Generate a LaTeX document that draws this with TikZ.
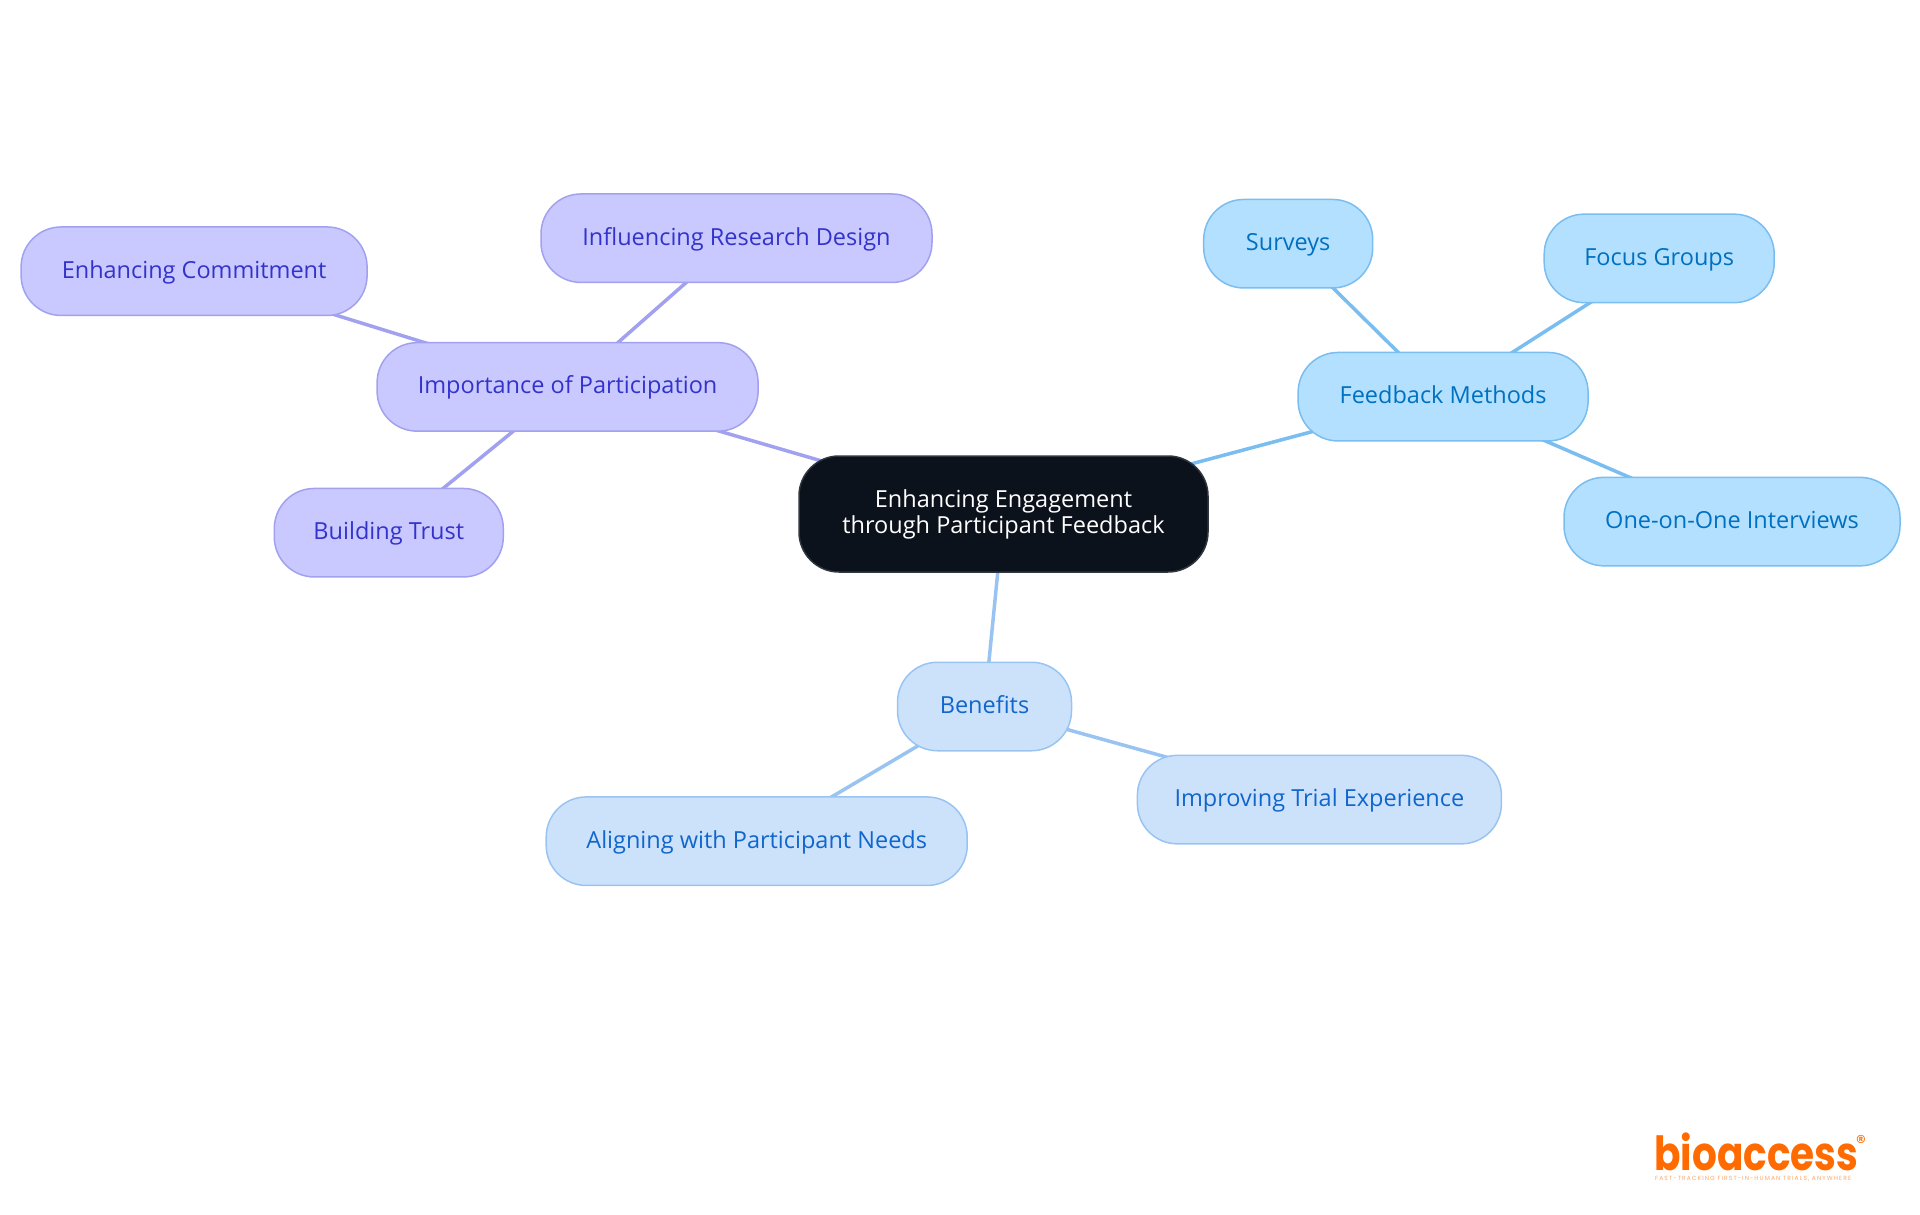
\documentclass[tikz,border=0pt]{standalone}
\usepackage{fontspec}
\setmainfont{Open Sans}
\newfontfamily\logofont{Poppins}
\newfontfamily\tagfont{Poppins}[LetterSpace=18]
\usetikzlibrary{backgrounds}
\definecolor{rootfill}{HTML}{0C121B}
\definecolor{purplefill}{HTML}{C9C9FF}
\definecolor{purpleline}{HTML}{A1A1F0}
\definecolor{purpletext}{HTML}{3333CC}
\definecolor{cyanfill}{HTML}{B3E0FF}
\definecolor{cyanline}{HTML}{7ABDF0}
\definecolor{cyantext}{HTML}{0070C0}
\definecolor{bluefill}{HTML}{CCE2FB}
\definecolor{blueline}{HTML}{99C4F2}
\definecolor{bluetext}{HTML}{1166CC}
\definecolor{logoorange}{HTML}{FF6B00}
\begin{document}
\begin{tikzpicture}[x=1pt,y=1pt,sibling distance=0pt,level distance=0pt,
	edge from parent/.style={draw=none},
	box/.style={draw,rectangle,rounded corners=40pt,line width=1.5pt,inner sep=0pt,outer sep=0pt,
		minimum height=88.5pt,font=\fontsize{23.5}{26}\selectfont},
	childbox/.style={box,text height=20pt,text depth=6pt},
	rootbox/.style={box,draw=rootfill!85!white,fill=rootfill,text=white,align=center,minimum height=116pt,minimum width=409pt},
	purplebox/.style={childbox,draw=purpleline,fill=purplefill,text=purpletext},
	cyanbox/.style={childbox,draw=cyanline,fill=cyanfill,text=cyantext},
	bluebox/.style={childbox,draw=blueline,fill=bluefill,text=bluetext},
	purpleedge/.style={draw=purpleline,line width=3.5pt},
	cyanedge/.style={draw=cyanline,line width=3.5pt},
	blueedge/.style={draw=blueline,line width=3.5pt}]
\useasboundingbox (0,0) rectangle (1920,-1215);
\node [rootbox] (main) at (1003.5,-514) {Enhancing Engagement\\through Participant Feedback}
child [shift={(-435.9,127.1)}] {node [purplebox,minimum width=381pt] (imp) {Importance of Participation}
	child [shift={(168.9,148.7)}] {node [purplebox,minimum width=391pt] (infl) {Influencing Research Design}}
	child [shift={(-373.5,115.7)}] {node [purplebox,minimum width=346pt] (commit) {Enhancing Commitment}}
	child [shift={(-178.8,-145.8)}] {node [purplebox,minimum width=229pt] (trust) {Building Trust}}
}
child [shift={(439.6,117.3)}] {node [cyanbox,minimum width=290pt] (feed) {Feedback Methods}
	child [shift={(-154.9,153)}] {node [cyanbox,minimum width=169pt] (surv) {Surveys}}
	child [shift={(216.1,138.3)}] {node [cyanbox,minimum width=230pt] (focus) {Focus Groups}}
	child [shift={(288.9,-124.9)}] {node [cyanbox,minimum width=336pt] (inter) {One-on-One Interviews}}
}
child [shift={(-19,-192.5)}] {node [bluebox,minimum width=174pt] (ben) {Benefits}
	child [shift={(334.9,-93.1)}] {node [bluebox,minimum width=364pt] (trial) {Improving Trial Experience}}
	child [shift={(-227.8,-134.7)}] {node [bluebox,minimum width=421pt] (needs) {Aligning with Participant Needs}}
};
\begin{scope}[on background layer]
\draw [purpleedge] (main.center) -- (imp.center);
\draw [purpleedge] (imp.center) -- (infl.center);
\draw [purpleedge] (imp.center) -- (commit.center);
\draw [purpleedge] (imp.center) -- (trust.center);
\draw [cyanedge] (main.center) -- (feed.center);
\draw [cyanedge] (feed.center) -- (surv.center);
\draw [cyanedge] (feed.center) -- (focus.center);
\draw [cyanedge] (feed.center) -- (inter.center);
\draw [blueedge] (main.center) -- (ben.center);
\draw [blueedge] (ben.center) -- (trial.center);
\draw [blueedge] (ben.center) -- (needs.center);
\end{scope}
%logo
\node [anchor=base west,inner sep=0pt,text depth=0pt,text=logoorange,font=\logofont\bfseries\fontsize{47}{47}\selectfont] (logo) at (1654,-1170) {\scalebox{0.83}[1]{bioaccess}};
\node [anchor=center,inner sep=0pt,text=logoorange,font=\logofont\fontsize{20}{20}\selectfont] (reg) at (1861,-1142) {®};
\node [anchor=base west,inner sep=0pt,text=logoorange!60,font=\tagfont\fontsize{6}{6}\selectfont] (tag) at (1655,-1180) {FAST-TRACKING FIRST-IN-HUMAN TRIALS, ANYWHERE};
\end{tikzpicture}
\end{document}
